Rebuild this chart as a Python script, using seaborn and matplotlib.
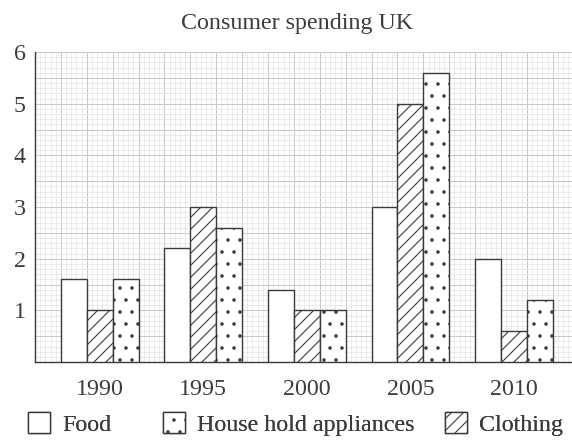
import numpy as np
import pandas as pd
import matplotlib.pyplot as plt
import seaborn as sb

# Data
years = ['1990', '1995', '2000', '2005', '2010']
food = [1.6, 2.2, 1.4, 3.0, 2.0]
clothing = [1.0, 3.0, 1.0, 5.0, 0.6]
appliances = [1.6, 2.6, 1.0, 5.6, 1.2]

series = ['Food', 'Clothing', 'House hold appliances']
hatches = ['', '//', '.']

df = pd.DataFrame({
    'Year': years * 3,
    'Category': [s for s in series for _ in years],
    'Spending': food + clothing + appliances,
})

sb.set_style('white')
plt.rcParams['font.family'] = ['Liberation Serif', 'DejaVu Serif']
plt.rcParams['hatch.linewidth'] = 1.1

ink = '#3a3a3a'
txt = '#3c3c3c'

fig = plt.figure(figsize=(572 / 72, 441 / 72), dpi=72)
ax = fig.add_axes([35 / 572, 1 - 362 / 441, 537 / 572, 310 / 441])

# graph-paper background
for x in np.arange(-0.625, 4.6, 0.05):
    ax.axvline(x, color='#e0e0e0', lw=0.6, zorder=0)
for x in np.arange(-0.625, 4.6, 0.25):
    ax.axvline(x, color='#c6c6c6', lw=0.9, zorder=0)
for y in np.arange(0, 6.01, 0.1):
    ax.axhline(y, color='#e0e0e0', lw=0.6, zorder=0)
for y in np.arange(0, 6.01, 0.5):
    ax.axhline(y, color='#c6c6c6', lw=0.9, zorder=0)

sb.barplot(data=df, x='Year', y='Spending', hue='Category', hue_order=series,
           palette=['white'] * 3, width=0.75, gap=0, edgecolor=ink,
           linewidth=1.4, saturation=1, legend=False, ax=ax, zorder=3)

for cont, h in zip(ax.containers, hatches):
    for p in cont.patches:
        p.set_hatch(h)
        p.set_edgecolor(ink)

ax.set_xlim(-0.625, 4.56)
ax.set_ylim(0, 6)
ax.set_xlabel('')
ax.set_ylabel('')

for s in ['top', 'right']:
    ax.spines[s].set_visible(False)
for s in ['left', 'bottom']:
    ax.spines[s].set_color(ink)
    ax.spines[s].set_linewidth(1.4)

ax.set_yticks(range(0, 7))
ax.set_yticklabels([''] + [str(i) for i in range(1, 7)])
ax.set_xticks(np.arange(-0.625, 4.5, 1.0))
ax.set_xticklabels([])
ax.set_xticks(range(5), minor=True)
ax.set_xticklabels(years, minor=True)
ax.tick_params(axis='both', which='major', direction='out', length=6,
               width=1.4, color=ink, labelsize=24, labelcolor=txt, pad=3)
ax.tick_params(axis='x', which='minor', length=0, labelsize=24,
               labelcolor=txt, pad=17)

fig.text(297 / 572, 1 - 23 / 441, 'Consumer spending UK', fontsize=24,
         color=txt, ha='center', va='center')

# legend entries placed one by one, as in the original
entries = [(ax.containers[0], 'Food', 28),
           (ax.containers[2], 'House hold appliances', 163),
           (ax.containers[1], 'Clothing', 445)]
for handle, label, xpos in entries:
    leg = fig.legend([handle], [label], loc='center left',
                     bbox_to_anchor=(xpos / 572, 1 - 424 / 441),
                     frameon=False, fontsize=24, handlelength=0.92,
                     handleheight=0.92, handletextpad=0.5, borderpad=0,
                     borderaxespad=0, labelcolor=txt)
    fig.add_artist(leg)

plt.savefig('out.png', dpi=72)
